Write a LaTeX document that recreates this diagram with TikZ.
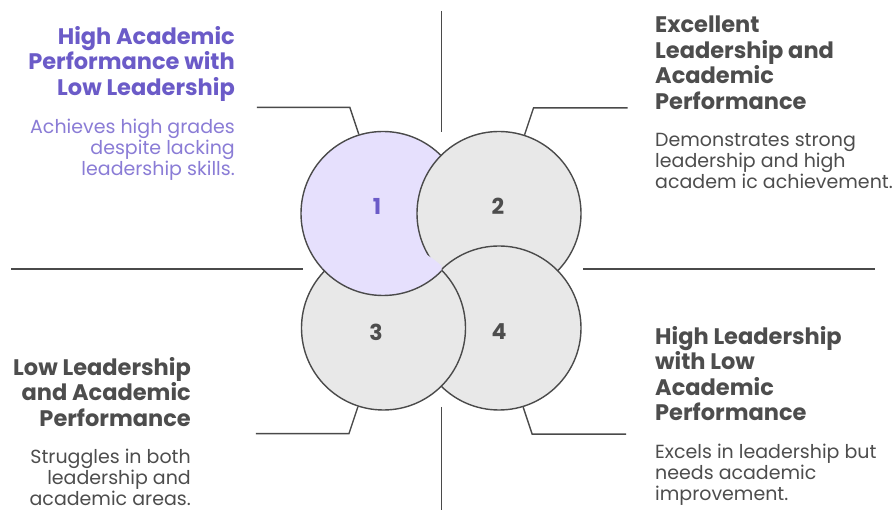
\documentclass[tikz,border=0pt]{standalone}
\usepackage{fontspec}
\setmainfont{Poppins}
\usepackage{xcolor}
\definecolor{accent}{HTML}{6B5BC8}
\definecolor{accentsoft}{HTML}{8A7CD6}
\definecolor{lilac}{HTML}{E6E0FD}
\definecolor{greyfill}{HTML}{E8E8E8}
\definecolor{ink}{HTML}{4D4D4D}
\definecolor{edge}{HTML}{4A4A4A}
\usetikzlibrary{positioning}

\begin{document}
\begin{tikzpicture}[x=1pt, y=-1pt, every node/.style={inner sep=0pt},
    disc/.style={circle, draw=edge, line width=1.4pt, minimum size=164pt, fill=greyfill},
    num/.style={font=\bfseries\fontsize{22}{22}\selectfont, text=ink},
    head/.style={font=\bfseries\fontsize{22.5}{25.5}\selectfont, text=ink, text depth=5pt},
    body/.style={font=\fontsize{19}{21}\selectfont, text=ink},
    rule/.style={draw=edge, line width=1.4pt}]
    \useasboundingbox[fill=white] (0,0) rectangle (895,510);

    % Axes
    \draw[rule] (441.5,11) -- (441.5,132);
    \draw[rule] (441.5,407) -- (441.5,510);
    \draw[rule] (11,269) -- (303,269);
    \draw[rule] (583,269) -- (875,269);

    % Circles (woven: 2 over 1, 4 over 2, 3 over 4, 1 over 3)
    \node[disc, fill=lilac] (c1) at (383,213.5) {};
    \node[disc] (c2) at (499,213.5) {};
    \node[disc] (c4) at (499,328) {};
    \node[disc] (c3) at (383.5,328) {};
    \begin{scope}
        \clip (c3.center) circle (85);
        \clip (0,0) rectangle (441.5,510);
        \node[disc, fill=lilac] at (c1.center) {};
    \end{scope}

    % Numbers
    \node[num, text=accent] (n1) at (377,206) {1};
    \node[num] (n2) at (498,206) {2};
    \node[num] (n3) at (376,332) {3};
    \node[num] (n4) at (499,332) {4};

    % Leaders
    \draw[rule] (c1.107.5) -- ++(-9,-27) -- ++(-93,0);
    \draw[rule] (c2.72.5) -- ++(9,-27) -- ++(94,0);
    \draw[rule] (c3.252.5) -- ++(-9,27) -- ++(-93,0);
    \draw[rule] (c4.287.5) -- ++(9,27) -- ++(94,0);

    % Texts
    \node[head, align=right, text=accent, anchor=north east] (h1) at (235,26) {High Academic\\Performance with\\Low Leadership};
    \node[body, align=right, text=accentsoft, below=18pt of h1.south east, anchor=north east] (b1) {Achieves high grades\\despite lacking\\leadership skills.};
    \node[head, align=left, anchor=north west] (h2) at (655,16) {Excellent\\Leadership and\\Academic\\Performance};
    \node[body, align=left, below=19pt of h2.south west, anchor=north west] (b2) {Demonstrates strong\\leadership and high\\academ ic achievement.};
    \node[head, align=right, anchor=north east] (h3) at (191,357) {Low Leadership\\and Academic\\Performance};
    \node[body, align=right, below=17pt of h3.south east, anchor=north east] (b3) {Struggles in both\\leadership and\\academic areas.};
    \node[head, align=left, anchor=north west] (h4) at (655,326) {High Leadership\\with Low\\Academic\\Performance};
    \node[body, align=left, below=18pt of h4.south west, anchor=north west] (b4) {Excels in leadership but\\needs academic\\improvement.};
\end{tikzpicture}
\end{document}
